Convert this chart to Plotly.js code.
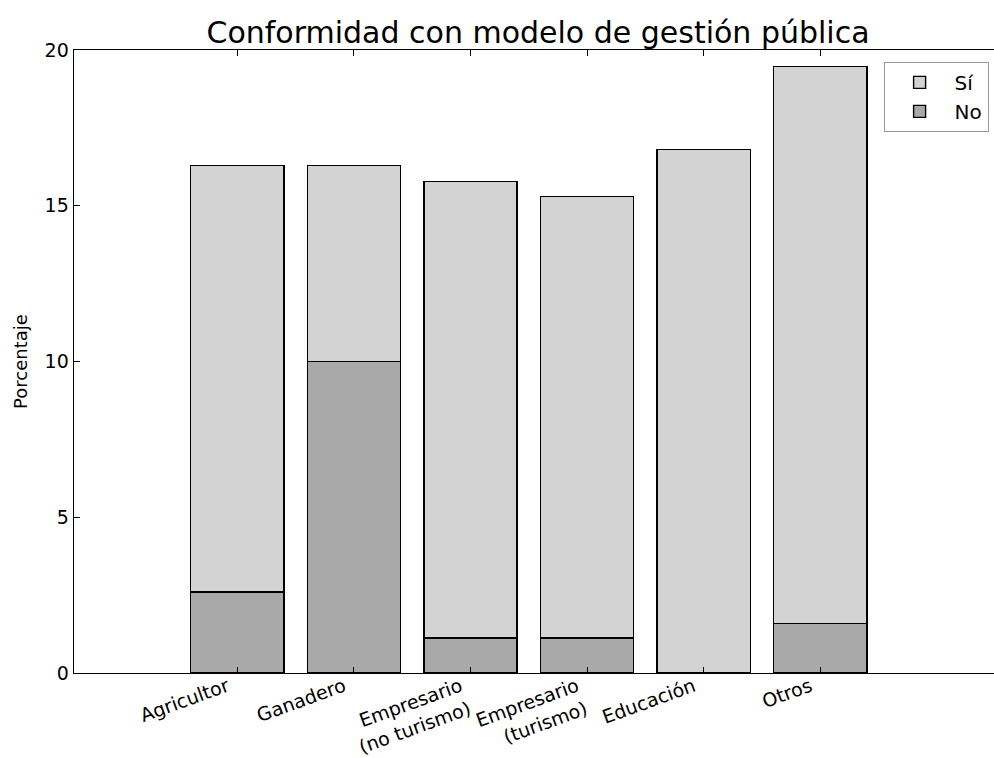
<!DOCTYPE html>
<html>
<head>
<meta charset="utf-8">
<script src="https://cdn.plot.ly/plotly-3.0.1.min.js"></script>
<style>
html,body{margin:0;padding:0;overflow:hidden;background:#fff;}
#chart{width:994px;height:758px;}
</style>
</head>
<body>
<div id="chart"></div>
<script>
const categories = ["Agricultor", "Ganadero", "Empresario<br>(no turismo)", "Empresario<br>(turismo)", "Educación", "Otros"];
const noValues = [2.60, 10.0, 1.12, 1.12, 0.0, 1.59];
const siValues = [13.69, 6.29, 14.66, 14.17, 16.80, 17.88];
const yTicks = [0, 5, 10, 15, 20];

const font = "DejaVu Sans, sans-serif";

const traces = [
  {
    type: "bar", name: "No", x: categories, y: noValues,
    marker: {color: "#a9a9a9", line: {color: "#000", width: 1.4}},
    legendrank: 2, legendgroup: "no", hoverinfo: "skip"
  },
  {
    type: "bar", name: "Sí", x: categories, y: siValues,
    marker: {color: "#d3d3d3", line: {color: "#000", width: 1.4}},
    legendrank: 1, legendgroup: "si", hoverinfo: "skip"
  }
];

const layout = {
  width: 994, height: 758,
  margin: {l: 74, r: 0, t: 50, b: 85},
  paper_bgcolor: "#fff", plot_bgcolor: "#fff",
  barmode: "stack", bargap: 0.2,
  font: {family: font, color: "#000", size: 18},
  title: {text: "Conformidad con modelo de gestión pública", x: 538/994, xref: "container", xanchor: "center", y: 1 - 32/758, yanchor: "middle", font: {family: font, size: 30, color: "#000"}},
  showlegend: true,
  legend: {
    x: 0.880, xanchor: "left", y: 0.981, yanchor: "top",
    bordercolor: "#999", borderwidth: 1, bgcolor: "#fff",
    font: {family: font, size: 20}, traceorder: "normal",
    itemwidth: 60, tracegroupgap: 10
  },
  xaxis: {
    type: "category", range: [-1.4, 6.49],
    showline: true, linecolor: "#000", linewidth: 1.4, mirror: "ticks",
    ticks: "inside", ticklen: 6, tickcolor: "#000", tickwidth: 1,
    tickangle: -20, showgrid: false, zeroline: false,
    ticklabelshift: -10, ticklabelstandoff: -6,
    tickfont: {family: font, size: 19}
  },
  yaxis: {
    range: [0, 20], tickvals: yTicks, ticktext: yTicks.map(String),
    showline: true, linecolor: "#000", linewidth: 1.4, mirror: false,
    ticks: "inside", ticklen: 6, tickcolor: "#000", tickwidth: 1,
    showgrid: false, zeroline: false,
    tickfont: {family: font, size: 19},
    title: {text: "Porcentaje", font: {family: font, size: 18}, standoff: 12}
  }
};

Plotly.newPlot("chart", traces, layout, {staticPlot: true, displayModeBar: false});
</script>
</body>
</html>
